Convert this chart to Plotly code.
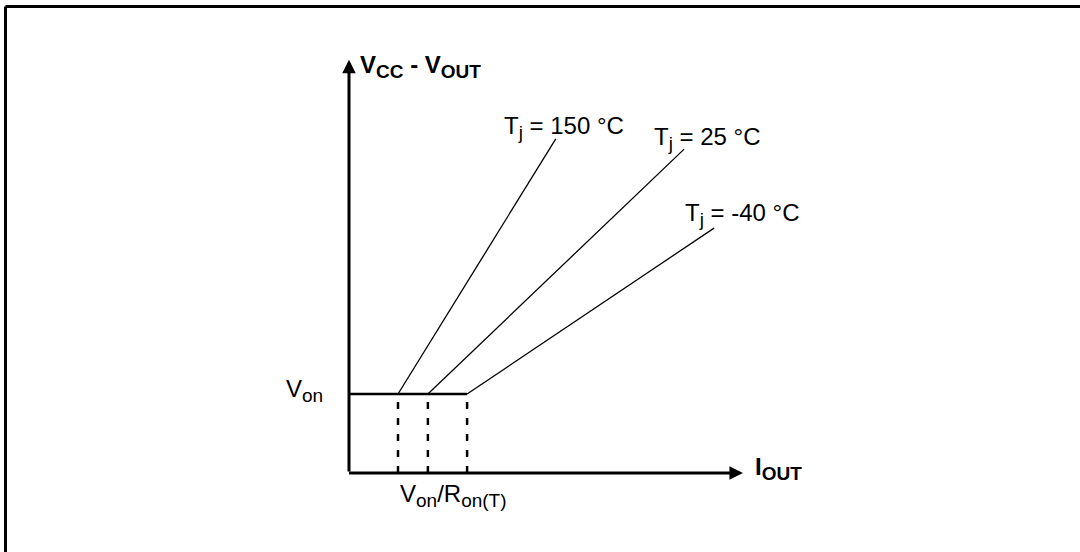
import plotly.graph_objects as go

# ---- conceptual data (arbitrary units) ----
temps = ["150 °C", "25 °C", "-40 °C"]
v_on = 1.0
i_knee = [1.0, 1.61, 2.41]        # V_on / R_on(T) for each temperature
i_end = [4.22, 6.84, 7.45]        # end of each characteristic line
v_end = [4.23, 4.10, 3.10]
x_axis_end = 8.04                 # I_OUT axis extent
y_axis_end = 5.23                 # V_CC - V_OUT axis extent
label_x = [3.12, 6.18, 6.82]
label_y = [4.37, 4.23, 3.27]

# ---- scales (pixel per unit), origin location ----
W, H = 1080, 552
PX_X, PX_Y = 49.0, 79.0
ORIG_X, ORIG_Y = 349.0, 473.0
x_range = [-ORIG_X / PX_X, (W - ORIG_X) / PX_X]
y_range = [-(H - ORIG_Y) / PX_Y, ORIG_Y / PX_Y]

FONT = "Liberation Sans, Arial, sans-serif"
FS = 24
SUB = 19


def sub(s):
    return f"<sub><span style='font-size:{SUB}px'>{s}</span></sub>"


fig = go.Figure()

# characteristic lines
for k in range(len(temps)):
    fig.add_trace(go.Scatter(x=[i_knee[k], i_end[k]], y=[v_on, v_end[k]],
                             mode="lines", line=dict(color="black", width=1.3),
                             hoverinfo="skip", showlegend=False))
# V_on plateau
fig.add_trace(go.Scatter(x=[0, max(i_knee)], y=[v_on, v_on], mode="lines",
                         line=dict(color="black", width=2.5),
                         hoverinfo="skip", showlegend=False))
# dashed drops
for k in range(len(temps)):
    fig.add_trace(go.Scatter(x=[i_knee[k], i_knee[k]], y=[0, v_on], mode="lines",
                             line=dict(color="black", width=2.5, dash="7px,9px"),
                             hoverinfo="skip", showlegend=False))

# axes with arrows
fig.add_annotation(x=0, y=y_axis_end, ax=0, ay=0, xref="x", yref="y", axref="x", ayref="y",
                   text="", showarrow=True, arrowhead=2, arrowsize=0.9, arrowwidth=3,
                   arrowcolor="black", standoff=0, startstandoff=0)
fig.add_annotation(x=x_axis_end, y=0, ax=-0.03, ay=0, xref="x", yref="y", axref="x", ayref="y",
                   text="", showarrow=True, arrowhead=2, arrowsize=0.9, arrowwidth=3,
                   arrowcolor="black", standoff=0, startstandoff=0)


def label(x, y, text, xanchor="left", bold=False):
    fig.add_annotation(x=x, y=y, xref="x", yref="y", text=(f"<b>{text}</b>" if bold else text),
                       showarrow=False, xanchor=xanchor, yanchor="middle",
                       font=dict(family=FONT, size=FS, color="black"))


for k, t in enumerate(temps):
    label(label_x[k], label_y[k], f"T{sub('j')} = {t}")

label(0.18, 5.14, f"V{sub('CC')} - V{sub('OUT')}", bold=True)
label(8.24, 0.06, f"I{sub('OUT')}", bold=True)
label(-0.49, 1.04, f"V{sub('on')}", xanchor="right")
label(1.0, -0.29, f"V{sub('on')}/R{sub('on(T)')}")

# frame
fig.add_shape(type="line", xref="paper", yref="paper", x0=5.5 / W, x1=1.0,
              y0=1 - 6.5 / H, y1=1 - 6.5 / H, line=dict(color="black", width=3))
fig.add_shape(type="line", xref="paper", yref="paper", x0=5.5 / W, x1=5.5 / W,
              y0=0, y1=1 - 6.5 / H, line=dict(color="black", width=3))

fig.update_layout(
    width=W, height=H, margin=dict(l=0, r=0, t=0, b=0),
    paper_bgcolor="white", plot_bgcolor="white",
    xaxis=dict(range=x_range, visible=False, fixedrange=True),
    yaxis=dict(range=y_range, visible=False, fixedrange=True),
    showlegend=False,
)

fig.write_html("out.html",
               config={"displayModeBar": False, "staticPlot": True},
               post_script="document.body.style.margin='0';document.body.style.overflow='hidden';")
